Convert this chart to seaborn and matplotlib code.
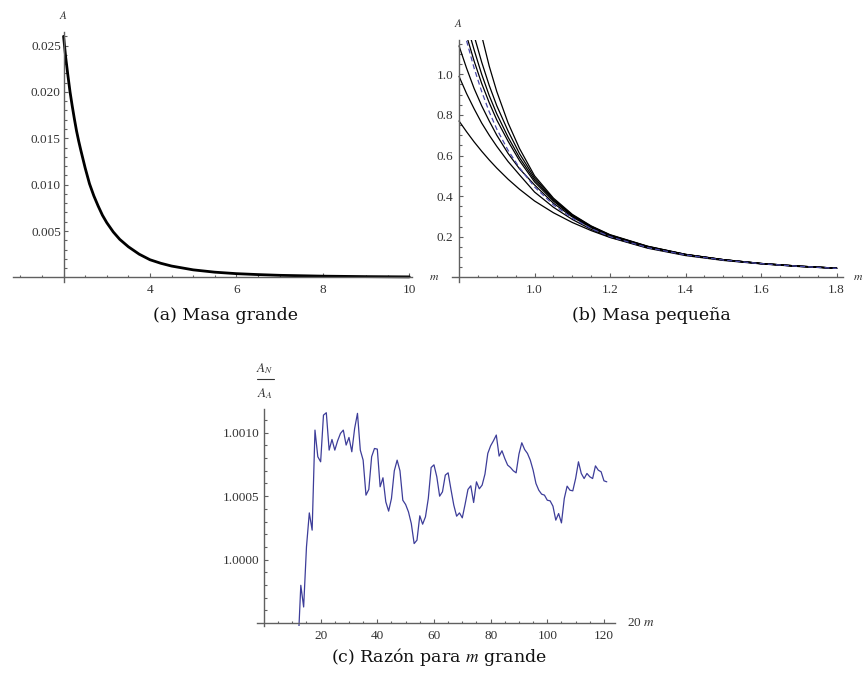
import numpy as np
import pandas as pd
import matplotlib
matplotlib.use("Agg")
import matplotlib.pyplot as plt
import seaborn as sns
from matplotlib.lines import Line2D
from matplotlib.ticker import FixedLocator, FormatStrFormatter

# ---------------- data ----------------
# (a) Masa grande
a_m = [2.0, 2.05, 2.1, 2.15, 2.2, 2.25, 2.3, 2.35, 2.4, 2.5, 2.6, 2.7, 2.8, 2.9,
       3.0, 3.15, 3.3, 3.5, 3.75, 4.0, 4.25, 4.5, 5.0, 5.5, 6.0, 6.5, 7.0, 8.0,
       9.0, 10.0]
a_A = [0.0260, 0.0237, 0.0218, 0.0200, 0.0185, 0.0171, 0.0158, 0.0147, 0.0137,
       0.0118, 0.0101, 0.0088, 0.0077, 0.0067, 0.0059, 0.0049, 0.0041, 0.0033,
       0.0025, 0.0019, 0.00152, 0.00122, 0.00081, 0.00056, 0.00040, 0.00030,
       0.00022, 0.00013, 0.00008, 0.00005]

# (b) Masa pequeña
b_m = [0.80, 0.82, 0.84, 0.86, 0.88, 0.90, 0.93, 0.96, 1.00, 1.05, 1.10, 1.15,
       1.20, 1.30, 1.40, 1.50, 1.60, 1.70, 1.80]
nan = np.nan
b_curve1 = [0.77, 0.717, 0.667, 0.621, 0.578, 0.538, 0.483, 0.434, 0.376, 0.318,
            0.270, 0.230, 0.196, 0.143, 0.107, 0.083, 0.066, 0.053, 0.044]
b_curve2 = [0.99, 0.905, 0.83, 0.76, 0.70, 0.645, 0.57, 0.505, 0.42, 0.345,
            0.285, 0.236, 0.198, 0.146, 0.110, 0.085, 0.067, 0.054, 0.044]
b_curve3 = [1.14, 1.03, 0.93, 0.845, 0.77, 0.70, 0.61, 0.535, 0.455, 0.365,
            0.297, 0.244, 0.204, 0.148, 0.111, 0.086, 0.067, 0.054, 0.045]
b_curve4 = [nan, 1.19, 1.065, 0.955, 0.86, 0.775, 0.67, 0.575, 0.47, 0.375,
            0.302, 0.247, 0.206, 0.150, 0.112, 0.086, 0.068, 0.055, 0.045]
b_curve5 = [nan, 1.25, 1.12, 1.00, 0.895, 0.805, 0.69, 0.59, 0.48, 0.38,
            0.304, 0.249, 0.207, 0.151, 0.112, 0.087, 0.068, 0.055, 0.045]
b_curve6 = [nan, nan, 1.19, 1.06, 0.945, 0.845, 0.72, 0.61, 0.49, 0.385,
            0.307, 0.251, 0.208, 0.152, 0.113, 0.087, 0.068, 0.055, 0.045]
b_curve7 = [nan, nan, nan, 1.19, 1.04, 0.915, 0.76, 0.635, 0.50, 0.39,
            0.310, 0.253, 0.210, 0.153, 0.113, 0.087, 0.068, 0.055, 0.045]
b_dashed = [nan, 1.165, 1.03, 0.915, 0.815, 0.73, 0.625, 0.54, 0.445, 0.357,
            0.291, 0.240, 0.200, 0.146, 0.110, 0.085, 0.067, 0.054, 0.044]

# (c) Razón para m grande
c_m = list(range(12, 122))
c_ratio = [0.99930,
    0.999797, 0.999626, 1.000100, 1.000368, 1.000232, 1.001021, 1.000811, 1.000771,
    1.001139, 1.001158, 1.000863, 1.000947, 1.000863, 1.000937, 1.000995, 1.001021,
    1.000903, 1.000963, 1.000850, 1.001034, 1.001153, 1.000863, 1.000784, 1.000508,
    1.000553, 1.000811, 1.000876, 1.000871, 1.000574, 1.000645, 1.000455, 1.000382,
    1.000482, 1.000700, 1.000784, 1.000700, 1.000468, 1.000434, 1.000376, 1.000284,
    1.000126, 1.000153, 1.000345, 1.000279, 1.000337, 1.000482, 1.000726, 1.000747,
    1.000653, 1.000500, 1.000534, 1.000666, 1.000684, 1.000553, 1.000429, 1.000342,
    1.000368, 1.000329, 1.000437, 1.000553, 1.000582, 1.000450, 1.000613, 1.000558,
    1.000587, 1.000674, 1.000837, 1.000897, 1.000937, 1.000982, 1.000816, 1.000858,
    1.000797, 1.000745, 1.000726, 1.000700, 1.000684, 1.000832, 1.000921, 1.000868,
    1.000837, 1.000784, 1.000705, 1.000600, 1.000547, 1.000516, 1.000508, 1.000468,
    1.000463, 1.000421, 1.000311, 1.000363, 1.000289, 1.000482, 1.000579, 1.000547,
    1.000542, 1.000639, 1.000771, 1.000679, 1.000639, 1.000679, 1.000653, 1.000639,
    1.000739, 1.000705, 1.000692, 1.000621, 1.000613]

captions = ["(a) Masa grande", "(b) Masa pequeña", "(c) Razón para $m$ grande"]

# ---------------- style ----------------
sns.set_style("white")
plt.rcParams["font.family"] = ["Liberation Serif", "DejaVu Serif"]
plt.rcParams["mathtext.fontset"] = "stix"

W, H = 864, 673
fig = plt.figure(figsize=(W / 100, H / 100), dpi=100)
fig.patch.set_facecolor("white")

AXC = "#606060"
TXC = "#333333"


def rect(x0, y0, x1, y1):
    return [x0 / W, 1 - y1 / H, (x1 - x0) / W, (y1 - y0) / H]


def style_axes(ax, xcross, ycross, ypad):
    for s in ["top", "right"]:
        ax.spines[s].set_visible(False)
    ax.spines["left"].set_position(("data", xcross))
    ax.spines["bottom"].set_position(("data", ycross))
    for s in ["left", "bottom"]:
        ax.spines[s].set_color(AXC)
        ax.spines[s].set_linewidth(1.0)
    ax.tick_params(which="both", direction="in", colors=AXC, labelcolor=TXC,
                   labelsize=9.5, width=0.8, bottom=True, left=True,
                   top=False, right=False)
    ax.tick_params(which="major", length=3.2)
    ax.tick_params(which="minor", length=1.8)
    ax.tick_params(axis="x", pad=5)
    ax.tick_params(axis="y", pad=ypad)
    ax.set_xlabel("")
    ax.set_ylabel("")
    ax.set_facecolor("none")
    ax.grid(False)


# ---------------- panel (a) ----------------
axa = fig.add_axes(rect(12.7, 31.7, 411.7, 282))
sns.lineplot(x=a_m, y=a_A, ax=axa, color="black", linewidth=2.0, sort=False)
axa.set_xlim(0.823, 10.056)
axa.set_ylim(-0.0005, 0.0265)
style_axes(axa, 2, 0, 2.0)
axa.xaxis.set_major_locator(FixedLocator([4, 6, 8, 10]))
axa.xaxis.set_minor_locator(FixedLocator(np.arange(1.0, 10.01, 0.5)))
axa.yaxis.set_major_locator(FixedLocator([0.005, 0.010, 0.015, 0.020, 0.025]))
axa.yaxis.set_minor_locator(FixedLocator(np.arange(0.001, 0.0262, 0.001)))
axa.yaxis.set_major_formatter(FormatStrFormatter("%.3f"))
axa.xaxis.set_major_formatter(FormatStrFormatter("%d"))

# ---------------- panel (b) ----------------
axb = fig.add_axes(rect(451.7, 40, 843.3, 281.7))
for vals in [b_curve1, b_curve2, b_curve3, b_curve4, b_curve5, b_curve6, b_curve7]:
    sns.lineplot(x=b_m, y=vals, ax=axb, color="black", linewidth=0.9, sort=False)
sns.lineplot(x=b_m, y=b_dashed, ax=axb, color="#4a4aa8", linewidth=0.9,
             linestyle=(0, (4, 2.5)), sort=False)
axb.set_xlim(0.7806, 1.8176)
axb.set_ylim(-0.0217, 1.169)
style_axes(axb, 0.8, 0, 4)
axb.xaxis.set_major_locator(FixedLocator([1.0, 1.2, 1.4, 1.6, 1.8]))
axb.xaxis.set_minor_locator(FixedLocator(np.arange(0.85, 1.81, 0.05)))
axb.yaxis.set_major_locator(FixedLocator([0.2, 0.4, 0.6, 0.8, 1.0]))
axb.yaxis.set_minor_locator(FixedLocator(np.arange(0.05, 1.16, 0.05)))
axb.xaxis.set_major_formatter(FormatStrFormatter("%.1f"))
axb.yaxis.set_major_formatter(FormatStrFormatter("%.1f"))

# ---------------- panel (c) ----------------
axc = fig.add_axes(rect(256.7, 409.3, 615, 626))
sns.lineplot(x=c_m, y=c_ratio, ax=axc, color="#3d3d99", linewidth=0.9, sort=False)
axc.set_xlim(-2.57, 123.9)
axc.set_ylim(0.999476, 1.001185)
style_axes(axc, 0, 0.9995, 3.5)
axc.xaxis.set_major_locator(FixedLocator([20, 40, 60, 80, 100, 120]))
axc.xaxis.set_minor_locator(FixedLocator(np.arange(5, 121, 5)))
axc.yaxis.set_major_locator(FixedLocator([1.0000, 1.0005, 1.0010]))
axc.yaxis.set_minor_locator(FixedLocator(np.arange(0.9996, 1.00118, 0.0001)))
axc.yaxis.set_major_formatter(FormatStrFormatter("%.4f"))
axc.xaxis.set_major_formatter(FormatStrFormatter("%d"))

# ---------------- axis labels & captions ----------------
def ftext(x, y, s, **kw):
    fig.text(x / W, 1 - y / H, s, **kw)

ftext(63, 15, "$A$", ha="center", va="center", fontsize=8, color=TXC)
ftext(434, 277, "$m$", ha="center", va="center", fontsize=8.5, color=TXC)
ftext(458, 23, "$A$", ha="center", va="center", fontsize=8, color=TXC)
ftext(858, 277, "$m$", ha="center", va="center", fontsize=8.5, color=TXC)

# fraction label A_N / A_A
ftext(265, 368.5, "$A_N$", ha="center", va="center", fontsize=9.5, color=TXC)
ftext(265, 393.5, "$A_A$", ha="center", va="center", fontsize=9.5, color=TXC)
fig.add_artist(Line2D([257 / W, 273.5 / W], [1 - 378.5 / H, 1 - 378.5 / H],
                      transform=fig.transFigure, color=TXC, linewidth=0.8))

ftext(627, 623, "20 $m$", ha="left", va="center", fontsize=9.5, color=TXC)

cap_kw = dict(ha="center", va="center", fontsize=12.5, color="#111111",
              family=["DejaVu Serif"])
ftext(225, 316, captions[0], **cap_kw)
ftext(651, 316, captions[1], **cap_kw)
ftext(439, 657, captions[2], **cap_kw)

fig.savefig("out.png", dpi=100, facecolor="white")
